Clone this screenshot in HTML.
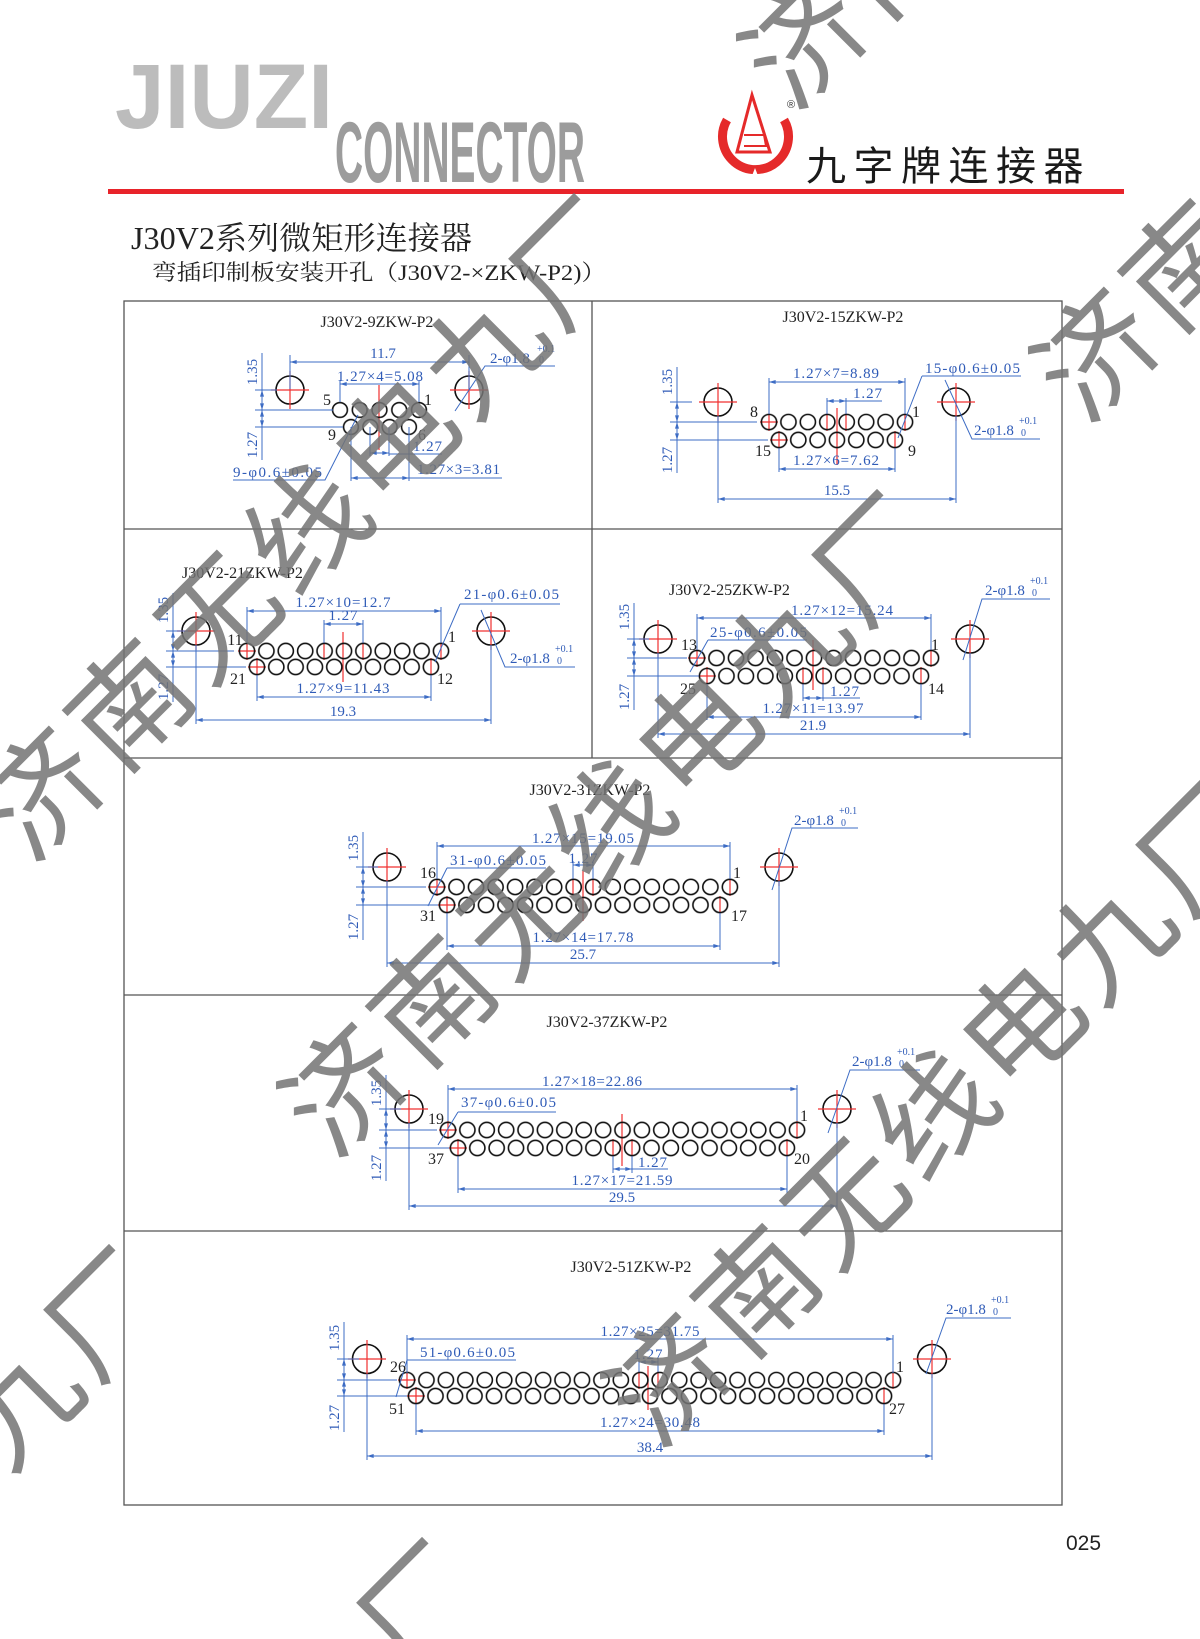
<!DOCTYPE html>
<html><head><meta charset="utf-8"><style>
html,body{margin:0;padding:0;background:#fff;overflow:hidden}
svg{display:block}
.h{font:16px "Liberation Serif","Noto Serif CJK SC",serif;fill:#222}
.t{font:15px "Liberation Serif","Noto Serif CJK SC",serif;fill:#2f5bb7}
.s{font-size:10px}
.n{font:16px "Liberation Serif",serif;fill:#222}
.b{stroke:#3d6cc4;stroke-width:1;fill:none}
.d{stroke:#3d6cc4;stroke-width:1;fill:none;marker-start:url(#a);marker-end:url(#a)}
.r{stroke:#f03030;stroke-width:1.2;fill:none}
.k{stroke:#111;stroke-width:1.6;fill:none}
.g{stroke:#555;stroke-width:1.3;fill:none}
.w{font:118px "Noto Sans CJK SC","WenQuanYi Zen Hei",sans-serif;fill:#747474;letter-spacing:7px;opacity:.85}
</style></head><body>
<svg width="1200" height="1639" viewBox="0 0 1200 1639" xmlns="http://www.w3.org/2000/svg">
<defs>
<marker id="a" viewBox="0 0 10 6" refX="10" refY="3" markerWidth="7" markerHeight="4" orient="auto-start-reverse"><path d="M0,0L10,3L0,6z" fill="#3d6cc4"/></marker>
<pattern id="p9a" x="330.1" y="400.1" width="19.75" height="19.75" patternUnits="userSpaceOnUse"><circle cx="9.875" cy="9.875" r="7.4" class="k"/></pattern>
<pattern id="p9b" x="341.3" y="417.3" width="19.33" height="19.33" patternUnits="userSpaceOnUse"><circle cx="9.665" cy="9.665" r="7.4" class="k"/></pattern>
<pattern id="p15a" x="759.3" y="412.3" width="19.43" height="19.43" patternUnits="userSpaceOnUse"><circle cx="9.715" cy="9.715" r="7.6" class="k"/></pattern>
<pattern id="p15b" x="769.3" y="430.3" width="19.33" height="19.33" patternUnits="userSpaceOnUse"><circle cx="9.665" cy="9.665" r="7.6" class="k"/></pattern>
<pattern id="p21a" x="237.3" y="641.3" width="19.4" height="19.4" patternUnits="userSpaceOnUse"><circle cx="9.7" cy="9.7" r="7.6" class="k"/></pattern>
<pattern id="p21b" x="247.3" y="657.3" width="19.33" height="19.33" patternUnits="userSpaceOnUse"><circle cx="9.665" cy="9.665" r="7.6" class="k"/></pattern>
<pattern id="p25a" x="687.25" y="648.25" width="19.5" height="19.5" patternUnits="userSpaceOnUse"><circle cx="9.75" cy="9.75" r="7.6" class="k"/></pattern>
<pattern id="p25b" x="697.3" y="666.3" width="19.45" height="19.45" patternUnits="userSpaceOnUse"><circle cx="9.725" cy="9.725" r="7.6" class="k"/></pattern>
<pattern id="p31a" x="427.2" y="877.2" width="19.53" height="19.53" patternUnits="userSpaceOnUse"><circle cx="9.765" cy="9.765" r="7.6" class="k"/></pattern>
<pattern id="p31b" x="437.25" y="895.25" width="19.5" height="19.5" patternUnits="userSpaceOnUse"><circle cx="9.75" cy="9.75" r="7.6" class="k"/></pattern>
<pattern id="p37a" x="438.3" y="1120.3" width="19.39" height="19.39" patternUnits="userSpaceOnUse"><circle cx="9.695" cy="9.695" r="7.6" class="k"/></pattern>
<pattern id="p37b" x="448.3" y="1138.3" width="19.35" height="19.35" patternUnits="userSpaceOnUse"><circle cx="9.675" cy="9.675" r="7.6" class="k"/></pattern>
<pattern id="p51a" x="397.3" y="1370.3" width="19.44" height="19.44" patternUnits="userSpaceOnUse"><circle cx="9.72" cy="9.72" r="7.6" class="k"/></pattern>
<pattern id="p51b" x="406.25" y="1386.25" width="19.5" height="19.5" patternUnits="userSpaceOnUse"><circle cx="9.75" cy="9.75" r="7.6" class="k"/></pattern>
</defs>

<!-- HEADER -->
<text x="115" y="128" font-family="Liberation Sans,sans-serif" font-weight="bold" font-size="92" fill="#bcbcbc" textLength="218" lengthAdjust="spacingAndGlyphs">JIUZI</text>
<text x="335" y="182" font-family="Liberation Sans,sans-serif" font-weight="bold" font-size="86" fill="#9c9c9c" textLength="250" lengthAdjust="spacingAndGlyphs">CONNECTOR</text>
<rect x="108" y="189" width="1016" height="5" fill="#e8232a"/>
<!-- logo -->
<path d="M727,120 A33,33 0 1 0 784,120" fill="none" stroke="#e52a2a" stroke-width="9"/>
<polygon points="748,186 755,168 762,186" fill="#fff"/>
<polygon points="752,95 737,152 770,152" fill="none" stroke="#e52a2a" stroke-width="3"/>
<polyline points="744,135 764,135 766,146 744,146" fill="none" stroke="#e52a2a" stroke-width="2"/>
<text x="787" y="108" font-family="Liberation Sans,sans-serif" font-size="11" fill="#333">®</text>
<text x="806" y="180" font-family="Noto Sans CJK SC,sans-serif" font-size="40" fill="#1a1a1a" letter-spacing="7.5">九字牌连接器</text>

<text x="131" y="249" font-family="Liberation Serif,Noto Serif CJK SC,serif" font-size="32" fill="#222" textLength="341" lengthAdjust="spacingAndGlyphs">J30V2系列微矩形连接器</text>
<text x="152" y="280" font-family="Liberation Serif,Noto Serif CJK SC,serif" font-size="22" fill="#222" textLength="454" lengthAdjust="spacingAndGlyphs">弯插印制板安装开孔（J30V2-×ZKW-P2)）</text>

<!-- TABLE -->
<rect x="124" y="301" width="938" height="1204" fill="none" stroke="#555" stroke-width="1.3"/>
<line x1="124" y1="529" x2="1062" y2="529" class="g"/>
<line x1="124" y1="758" x2="1062" y2="758" class="g"/>
<line x1="124" y1="995" x2="1062" y2="995" class="g"/>
<line x1="124" y1="1231" x2="1062" y2="1231" class="g"/>
<line x1="592" y1="301" x2="592" y2="758" class="g"/>

<!-- ===== 9 ===== -->
<text x="377" y="327" text-anchor="middle" class="h">J30V2-9ZKW-P2</text>
<circle cx="290" cy="390" r="14" class="k"/><circle cx="469" cy="390" r="14" class="k"/>
<path d="M271,390h38M290,371v38M450,390h38M469,371v38M379,385v65" class="r"/>
<rect x="330.1" y="400.1" width="98.75" height="19.75" fill="url(#p9a)"/>
<rect x="341.3" y="417.3" width="77.3" height="19.33" fill="url(#p9b)"/>
<path d="M290,355v34M469,355v34M340,380v22M419,380v22M370,427v29M389,427v29M351,427v54M409,427v54" class="b"/>
<line x1="290" y1="362" x2="469" y2="362" class="d"/>
<text x="383" y="358" text-anchor="middle" class="t">11.7</text>
<line x1="340" y1="384" x2="419" y2="384" class="d"/>
<text x="380" y="381" text-anchor="middle" class="t" textLength="86">1.27×4=5.08</text>
<line x1="370" y1="453" x2="389" y2="453" class="d"/>
<path d="M389,454H442M409,478H502M233,480H325L358,415M555,366H485L455,411" class="b"/>
<text x="413" y="451" class="t" textLength="29">1.27</text>
<line x1="351" y1="478" x2="409" y2="478" class="d"/>
<text x="417" y="474" class="t" textLength="83">1.27×3=3.81</text>
<text x="233" y="477" class="t" textLength="89">9-φ0.6±0.05</text>
<text x="490" y="363" class="t">2-φ1.8</text><text x="537" y="352" class="t s">+0.1</text><text x="539" y="363" class="t s">0</text>
<path d="M262,353V460M255,390h22M255,410h78M255,427h88" class="b"/>
<line x1="262" y1="390" x2="262" y2="410" class="d"/><line x1="262" y1="410" x2="262" y2="427" class="d"/>
<text transform="translate(257,372) rotate(-90)" text-anchor="middle" class="t">1.35</text>
<text transform="translate(257,445) rotate(-90)" text-anchor="middle" class="t">1.27</text>
<text x="331" y="405" text-anchor="end" class="n">5</text><text x="424" y="405" class="n">1</text>
<text x="332" y="440" text-anchor="middle" class="n">9</text><text x="422" y="440" text-anchor="middle" class="n">6</text>

<!-- ===== 15 ===== -->
<text x="843" y="322" text-anchor="middle" class="h">J30V2-15ZKW-P2</text>
<circle cx="718" cy="402" r="14" class="k"/><circle cx="956" cy="402" r="14" class="k"/>
<path d="M699,402h38M718,383v38M937,402h38M956,383v38M837,408v57M760,422h18M769,413v18M770,440h18M779,431v18M827,413v18M846,413v18M905,413v18M895,431v18" class="r"/>
<rect x="759.3" y="412.3" width="155.4" height="19.43" fill="url(#p15a)"/>
<rect x="769.3" y="430.3" width="135.3" height="19.33" fill="url(#p15b)"/>
<path d="M718,416v87M956,416v87M769,378v36M905,378v36M827,398v16M846,398v16M779,448v24M895,448v24" class="b"/>
<line x1="769" y1="382" x2="905" y2="382" class="d"/>
<text x="836" y="378" text-anchor="middle" class="t" textLength="86">1.27×7=8.89</text>
<line x1="827" y1="401" x2="846" y2="401" class="d"/>
<path d="M846,401H882M922,376H1021M922,376L898,438M1040,439H972L945,380" class="b"/>
<text x="853" y="398" class="t" textLength="29">1.27</text>
<line x1="779" y1="469" x2="895" y2="469" class="d"/>
<text x="836" y="465" text-anchor="middle" class="t" textLength="86">1.27×6=7.62</text>
<line x1="718" y1="499" x2="956" y2="499" class="d"/>
<text x="837" y="495" text-anchor="middle" class="t">15.5</text>
<text x="925" y="373" class="t" textLength="95">15-φ0.6±0.05</text>
<text x="974" y="435" class="t">2-φ1.8</text><text x="1019" y="424" class="t s">+0.1</text><text x="1021" y="436" class="t s">0</text>
<path d="M677,367V473M670,402h22M670,422h87M670,440h98" class="b"/>
<line x1="677" y1="402" x2="677" y2="422" class="d"/><line x1="677" y1="422" x2="677" y2="440" class="d"/>
<text transform="translate(672,382) rotate(-90)" text-anchor="middle" class="t">1.35</text>
<text transform="translate(672,460) rotate(-90)" text-anchor="middle" class="t">1.27</text>
<text x="754" y="417" text-anchor="middle" class="n">8</text><text x="916" y="417" text-anchor="middle" class="n">1</text>
<text x="763" y="456" text-anchor="middle" class="n">15</text><text x="912" y="456" text-anchor="middle" class="n">9</text>

<!-- ===== 21 ===== -->
<text x="182" y="578" class="h">J30V2-21ZKW-P2</text>
<circle cx="196" cy="631" r="14" class="k"/><circle cx="491" cy="631" r="14" class="k"/>
<path d="M177,631h38M196,612v38M472,631h38M491,612v38M343,632v50M238,651h18M247,642v18M248,667h18M257,658v18M324,642v18M363,642v18M441,642v18M431,658v18" class="r"/>
<rect x="237.3" y="641.3" width="213.4" height="19.4" fill="url(#p21a)"/>
<rect x="247.3" y="657.3" width="193.3" height="19.33" fill="url(#p21b)"/>
<path d="M196,645v79M491,645v79M247,607v36M441,607v36M324,620v23M363,620v23M257,675v26M431,675v26" class="b"/>
<line x1="247" y1="611" x2="441" y2="611" class="d"/>
<text x="343" y="607" text-anchor="middle" class="t" textLength="95">1.27×10=12.7</text>
<line x1="324" y1="624" x2="363" y2="624" class="d"/>
<text x="343" y="620" text-anchor="middle" class="t" textLength="29">1.27</text>
<line x1="257" y1="697" x2="431" y2="697" class="d"/>
<text x="343" y="693" text-anchor="middle" class="t" textLength="93">1.27×9=11.43</text>
<line x1="196" y1="720" x2="491" y2="720" class="d"/>
<text x="343" y="716" text-anchor="middle" class="t">19.3</text>
<path d="M460,604H560M460,604L435,662M575,667H505L481,610" class="b"/>
<text x="464" y="599" class="t" textLength="95">21-φ0.6±0.05</text>
<text x="510" y="663" class="t">2-φ1.8</text><text x="555" y="652" class="t s">+0.1</text><text x="557" y="664" class="t s">0</text>
<path d="M173,593V702M166,631h22M166,651h68M166,667h80" class="b"/>
<line x1="173" y1="631" x2="173" y2="651" class="d"/><line x1="173" y1="651" x2="173" y2="667" class="d"/>
<text transform="translate(168,610) rotate(-90)" text-anchor="middle" class="t">1.35</text>
<text transform="translate(168,687) rotate(-90)" text-anchor="middle" class="t">1.27</text>
<text x="235" y="645" text-anchor="middle" class="n">11</text><text x="452" y="642" text-anchor="middle" class="n">1</text>
<text x="238" y="684" text-anchor="middle" class="n">21</text><text x="445" y="684" text-anchor="middle" class="n">12</text>

<!-- ===== 25 ===== -->
<text x="669" y="595" class="h">J30V2-25ZKW-P2</text>
<circle cx="658" cy="639" r="14" class="k"/><circle cx="970" cy="639" r="14" class="k"/>
<path d="M639,639h38M658,620v38M951,639h38M970,620v38M813,640v50M688,658h18M697,649v18M698,676h18M707,667v18M803,667v18M823,667v18M931,649v18M921,667v18" class="r"/>
<rect x="687.25" y="648.25" width="253.5" height="19.5" fill="url(#p25a)"/>
<rect x="697.3" y="666.3" width="233.4" height="19.45" fill="url(#p25b)"/>
<path d="M658,653v85M970,653v85M697,614v36M931,614v36M803,684v17M823,684v17M707,684v36M921,684v36" class="b"/>
<line x1="697" y1="618" x2="931" y2="618" class="d"/>
<text x="842" y="615" text-anchor="middle" class="t" textLength="102">1.27×12=15.24</text>
<path d="M708,640H807M708,640L690,672M823,698H860M1050,599H982L963,660" class="b"/>
<text x="710" y="637" class="t" textLength="97">25-φ0.6±0.05</text>
<line x1="803" y1="698" x2="823" y2="698" class="d"/>
<text x="830" y="696" class="t" textLength="29">1.27</text>
<line x1="707" y1="717" x2="921" y2="717" class="d"/>
<text x="813" y="713" text-anchor="middle" class="t" textLength="101">1.27×11=13.97</text>
<line x1="658" y1="734" x2="970" y2="734" class="d"/>
<text x="813" y="730" text-anchor="middle" class="t">21.9</text>
<text x="985" y="595" class="t">2-φ1.8</text><text x="1030" y="584" class="t s">+0.1</text><text x="1032" y="596" class="t s">0</text>
<path d="M634,603V710M627,639h22M627,658h60M627,676h72" class="b"/>
<line x1="634" y1="639" x2="634" y2="658" class="d"/><line x1="634" y1="658" x2="634" y2="676" class="d"/>
<text transform="translate(629,617) rotate(-90)" text-anchor="middle" class="t">1.35</text>
<text transform="translate(629,697) rotate(-90)" text-anchor="middle" class="t">1.27</text>
<text x="689" y="650" text-anchor="middle" class="n">13</text><text x="935" y="650" text-anchor="middle" class="n">1</text>
<text x="688" y="694" text-anchor="middle" class="n">25</text><text x="936" y="694" text-anchor="middle" class="n">14</text>

<!-- ===== 31 ===== -->
<text x="590" y="795" text-anchor="middle" class="h">J30V2-31ZKW-P2</text>
<circle cx="387" cy="867" r="14" class="k"/><circle cx="779" cy="867" r="14" class="k"/>
<path d="M368,867h38M387,848v38M760,867h38M779,848v38M583,871v50M428,887h18M437,878v18M438,905h18M447,896v18M573,878v18M593,878v18M730,878v18M720,896v18" class="r"/>
<rect x="427.2" y="877.2" width="312.5" height="19.53" fill="url(#p31a)"/>
<rect x="437.25" y="895.25" width="292.5" height="19.5" fill="url(#p31b)"/>
<path d="M387,881v86M779,881v86M437,842v37M730,842v37M573,861v18M593,861v18M447,913v37M720,913v37" class="b"/>
<line x1="437" y1="846" x2="730" y2="846" class="d"/>
<text x="583" y="843" text-anchor="middle" class="t" textLength="102">1.27×15=19.05</text>
<line x1="573" y1="865" x2="593" y2="865" class="d"/>
<text x="583" y="863" text-anchor="middle" class="t" textLength="29">1.27</text>
<path d="M447,868H546M447,868L428,906M858,828H792L772,890" class="b"/>
<text x="450" y="865" class="t" textLength="96">31-φ0.6±0.05</text>
<line x1="447" y1="946" x2="720" y2="946" class="d"/>
<text x="583" y="942" text-anchor="middle" class="t" textLength="101">1.27×14=17.78</text>
<line x1="387" y1="963" x2="779" y2="963" class="d"/>
<text x="583" y="959" text-anchor="middle" class="t">25.7</text>
<text x="794" y="825" class="t">2-φ1.8</text><text x="839" y="814" class="t s">+0.1</text><text x="841" y="826" class="t s">0</text>
<path d="M363,832V940M356,867h22M356,887h70M356,905h82" class="b"/>
<line x1="363" y1="867" x2="363" y2="887" class="d"/><line x1="363" y1="887" x2="363" y2="905" class="d"/>
<text transform="translate(358,848) rotate(-90)" text-anchor="middle" class="t">1.35</text>
<text transform="translate(358,927) rotate(-90)" text-anchor="middle" class="t">1.27</text>
<text x="428" y="878" text-anchor="middle" class="n">16</text><text x="737" y="878" text-anchor="middle" class="n">1</text>
<text x="428" y="921" text-anchor="middle" class="n">31</text><text x="739" y="921" text-anchor="middle" class="n">17</text>

<!-- ===== 37 ===== -->
<text x="607" y="1027" text-anchor="middle" class="h">J30V2-37ZKW-P2</text>
<circle cx="409" cy="1109" r="14" class="k"/><circle cx="837" cy="1109" r="14" class="k"/>
<path d="M390,1109h38M409,1090v38M818,1109h38M837,1090v38M622,1114v52M439,1130h18M448,1121v18M449,1148h18M458,1139v18M613,1139v18M632,1139v18M797,1121v18M787,1139v18" class="r"/>
<rect x="438.3" y="1120.3" width="368.4" height="19.39" fill="url(#p37a)"/>
<rect x="448.3" y="1138.3" width="348.3" height="19.35" fill="url(#p37b)"/>
<path d="M409,1123v87M837,1123v87M448,1085v36M797,1085v36M613,1156v17M632,1156v17M458,1156v37M787,1156v37" class="b"/>
<line x1="448" y1="1089" x2="797" y2="1089" class="d"/>
<text x="592" y="1086" text-anchor="middle" class="t" textLength="100">1.27×18=22.86</text>
<path d="M458,1112H556M458,1112L438,1145M632,1169H668M920,1070H850L828,1133" class="b"/>
<text x="461" y="1107" class="t" textLength="95">37-φ0.6±0.05</text>
<line x1="613" y1="1169" x2="632" y2="1169" class="d"/>
<text x="638" y="1167" class="t" textLength="29">1.27</text>
<line x1="458" y1="1189" x2="787" y2="1189" class="d"/>
<text x="622" y="1185" text-anchor="middle" class="t" textLength="101">1.27×17=21.59</text>
<line x1="409" y1="1206" x2="837" y2="1206" class="d"/>
<text x="622" y="1202" text-anchor="middle" class="t">29.5</text>
<text x="852" y="1066" class="t">2-φ1.8</text><text x="897" y="1055" class="t s">+0.1</text><text x="899" y="1067" class="t s">0</text>
<path d="M386,1075V1181M379,1109h22M379,1130h58M379,1148h70" class="b"/>
<line x1="386" y1="1109" x2="386" y2="1130" class="d"/><line x1="386" y1="1130" x2="386" y2="1148" class="d"/>
<text transform="translate(381,1093) rotate(-90)" text-anchor="middle" class="t">1.35</text>
<text transform="translate(381,1168) rotate(-90)" text-anchor="middle" class="t">1.27</text>
<text x="436" y="1124" text-anchor="middle" class="n">19</text><text x="804" y="1121" text-anchor="middle" class="n">1</text>
<text x="436" y="1164" text-anchor="middle" class="n">37</text><text x="802" y="1164" text-anchor="middle" class="n">20</text>

<!-- ===== 51 ===== -->
<text x="631" y="1272" text-anchor="middle" class="h">J30V2-51ZKW-P2</text>
<circle cx="367" cy="1359" r="14.5" class="k"/><circle cx="932" cy="1359" r="14.5" class="k"/>
<path d="M348,1359h38M367,1340v38M913,1359h38M932,1340v38M648,1366v44M398,1380h18M407,1371v18M407,1396h18M416,1387v18M639,1371v18M658,1371v18M893,1371v18M884,1387v18" class="r"/>
<rect x="397.3" y="1370.3" width="505.4" height="19.44" fill="url(#p51a)"/>
<rect x="406.25" y="1386.25" width="487.5" height="19.5" fill="url(#p51b)"/>
<path d="M367,1374v86M932,1374v86M407,1335v38M893,1335v38M639,1358v14M658,1358v14M416,1404v31M884,1404v31" class="b"/>
<line x1="407" y1="1339" x2="893" y2="1339" class="d"/>
<text x="650" y="1336" text-anchor="middle" class="t" textLength="99">1.27×25=31.75</text>
<path d="M407,1360H516M407,1360L396,1397M1011,1318H946L926,1374" class="b"/>
<text x="420" y="1357" class="t" textLength="95">51-φ0.6±0.05</text>
<line x1="639" y1="1362" x2="658" y2="1362" class="d"/>
<text x="648" y="1359" text-anchor="middle" class="t" textLength="29">1.27</text>
<line x1="416" y1="1431" x2="884" y2="1431" class="d"/>
<text x="650" y="1427" text-anchor="middle" class="t" textLength="100">1.27×24=30.48</text>
<line x1="367" y1="1456" x2="932" y2="1456" class="d"/>
<text x="650" y="1452" text-anchor="middle" class="t">38.4</text>
<text x="946" y="1314" class="t">2-φ1.8</text><text x="991" y="1303" class="t s">+0.1</text><text x="993" y="1315" class="t s">0</text>
<path d="M344,1322V1432M337,1359h22M337,1380h60M337,1396h70" class="b"/>
<line x1="344" y1="1359" x2="344" y2="1380" class="d"/><line x1="344" y1="1380" x2="344" y2="1396" class="d"/>
<text transform="translate(339,1338) rotate(-90)" text-anchor="middle" class="t">1.35</text>
<text transform="translate(339,1418) rotate(-90)" text-anchor="middle" class="t">1.27</text>
<text x="398" y="1372" text-anchor="middle" class="n">26</text><text x="900" y="1372" text-anchor="middle" class="n">1</text>
<text x="397" y="1414" text-anchor="middle" class="n">51</text><text x="897" y="1414" text-anchor="middle" class="n">27</text>

<text x="1066" y="1550" font-family="Liberation Sans,sans-serif" font-size="21" fill="#222">025</text>

<!-- WATERMARK -->
<g>
<text class="w" transform="translate(42,794) rotate(-45)" x="-59" y="42">济南无线电九厂</text>
<text class="w" transform="translate(345,1090) rotate(-45)" x="-59" y="42">济南无线电九厂</text>
<text class="w" transform="translate(669,1380) rotate(-45)" x="-59" y="42">济南无线电九厂</text>
<text class="w" transform="translate(805,42) rotate(-45)" x="-59" y="42">济南无线电九厂</text>
<text class="w" transform="translate(1097,355) rotate(-45)" x="-59" y="42">济南无线电九厂</text>
<text class="w" transform="translate(-423,1845) rotate(-45)" x="-59" y="42">济南无线电九厂</text>
<text class="w" transform="translate(-110,2138) rotate(-45)" x="-59" y="42">济南无线电九厂</text>
</g>
</svg>
</body></html>
